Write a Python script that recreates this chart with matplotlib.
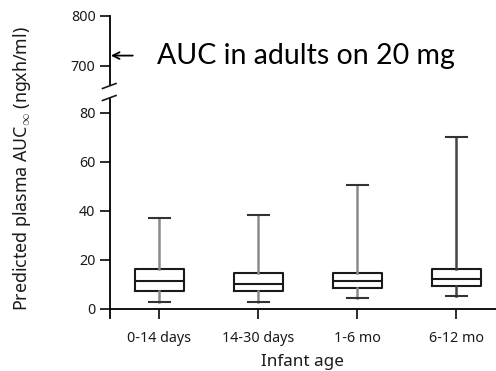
import matplotlib
matplotlib.use("Agg")
import matplotlib.pyplot as plt
from matplotlib.lines import Line2D

categories = ["0-14 days", "14-30 days", "1-6 mo", "6-12 mo"]
whisker_low = [2.7, 2.7, 4.2, 5.2]
q1 = [7.3, 7.3, 8.3, 9.3]
median = [11.4, 10.0, 11.4, 12.1]
q3 = [16.2, 14.7, 14.7, 16.2]
whisker_high = [37.0, 38.0, 50.6, 69.9]
whisker_colors = ["#8a8a8a", "#8a8a8a", "#8a8a8a", "#444444"]
lower_ticks = [0, 20, 40, 60, 80]
upper_ticks = [700, 800]
adult_auc = 720
annotation = "AUC in adults on 20 mg"
ylabel = "Predicted plasma AUC$_{\\infty}$ (ngxh/ml)"
xlabel = "Infant age"

W, H = 496, 371
fig = plt.figure(figsize=(W / 100, H / 100), dpi=100)
plt.rcParams["mathtext.fontset"] = "custom"
plt.rcParams["mathtext.rm"] = "Noto Sans"
tick_font = "Noto Sans"
tc = "#1a1a1a"

def fx(px):
    return px / W

def fy(py):
    return 1 - py / H

# lower axes
ax_l, ax_r = 109.5, 496
lo_top, lo_bot = 98, 318.3
ax = fig.add_axes([fx(ax_l), fy(lo_bot), fx(ax_r - ax_l), (lo_bot - lo_top) / H])
ax.set_xlim(-0.505, 3.4)
ax.set_ylim(-4, 86)

stats = []
for i, c in enumerate(categories):
    stats.append(dict(label=c, whislo=whisker_low[i], q1=q1[i], med=median[i],
                      q3=q3[i], whishi=whisker_high[i]))
bp = ax.bxp(stats, positions=range(len(categories)), widths=0.49, showfliers=False,
            patch_artist=False,
            boxprops=dict(color="#1a1a1a", linewidth=1.5),
            medianprops=dict(color="#1a1a1a", linewidth=1.5),
            capprops=dict(color="#333333", linewidth=1.5),
            whiskerprops=dict(color="#888888", linewidth=1.8),
            capwidths=0.22)
for i, col in enumerate(whisker_colors):
    bp["whiskers"][2 * i].set_color(col)
    bp["whiskers"][2 * i + 1].set_color(col)

for s in ["top", "right"]:
    ax.spines[s].set_visible(False)
ax.spines["bottom"].set_position(("data", 0))
ax.spines["left"].set_linewidth(1.3)
ax.spines["bottom"].set_linewidth(1.3)
ax.spines["left"].set_bounds(-4, 86)
ax.set_yticks(lower_ticks)
ax.set_xticks(range(len(categories)))
ax.set_xticklabels(categories)
ax.tick_params(axis="both", length=7, width=1.3, colors="#1a1a1a", labelsize=10.3,
               labelcolor=tc)
ax.tick_params(axis="x", pad=9)
ax.tick_params(axis="y", pad=3)
for lab in ax.get_xticklabels() + ax.get_yticklabels():
    lab.set_fontfamily(tick_font)
ax.set_xlabel(xlabel, fontsize=12.3, fontfamily=tick_font, color=tc, labelpad=6)

# upper axes
up_top, up_bot = 15.7, 85.0
ax2 = fig.add_axes([fx(ax_l), fy(up_bot), fx(ax_r - ax_l), (up_bot - up_top) / H])
ax2.set_xlim(-0.505, 3.4)
ax2.set_ylim(661, 800)
for s in ["top", "right", "bottom"]:
    ax2.spines[s].set_visible(False)
ax2.spines["left"].set_linewidth(1.3)
ax2.set_xticks([])
ax2.set_yticks(upper_ticks)
ax2.tick_params(axis="y", length=7, width=1.3, colors="#1a1a1a", labelsize=10.3,
                labelcolor=tc, pad=3)
for lab in ax2.get_yticklabels():
    lab.set_fontfamily(tick_font)
ax2.patch.set_alpha(0)

# arrow + annotation
ax2.annotate("", xy=(-0.505, adult_auc), xytext=(-0.27, adult_auc),
             arrowprops=dict(arrowstyle="->", color="black", lw=1.3,
                             shrinkA=0, shrinkB=1, mutation_scale=12),
             annotation_clip=False)
ax2.text(-0.03, adult_auc, annotation, fontsize=20.5, fontfamily="Lato",
         color="black", va="center", ha="left")

# break marks
for yb in (86, 98):
    fig.add_artist(Line2D([fx(102.5), fx(116)], [fy(yb + 2.5), fy(yb - 2.5)],
                          color="#1a1a1a", lw=1.2))

fig.text(fx(22), fy(169), ylabel, rotation=90, ha="center", va="center",
         fontsize=12.8, fontfamily=tick_font, color=tc)

fig.savefig("out.png", dpi=100)
